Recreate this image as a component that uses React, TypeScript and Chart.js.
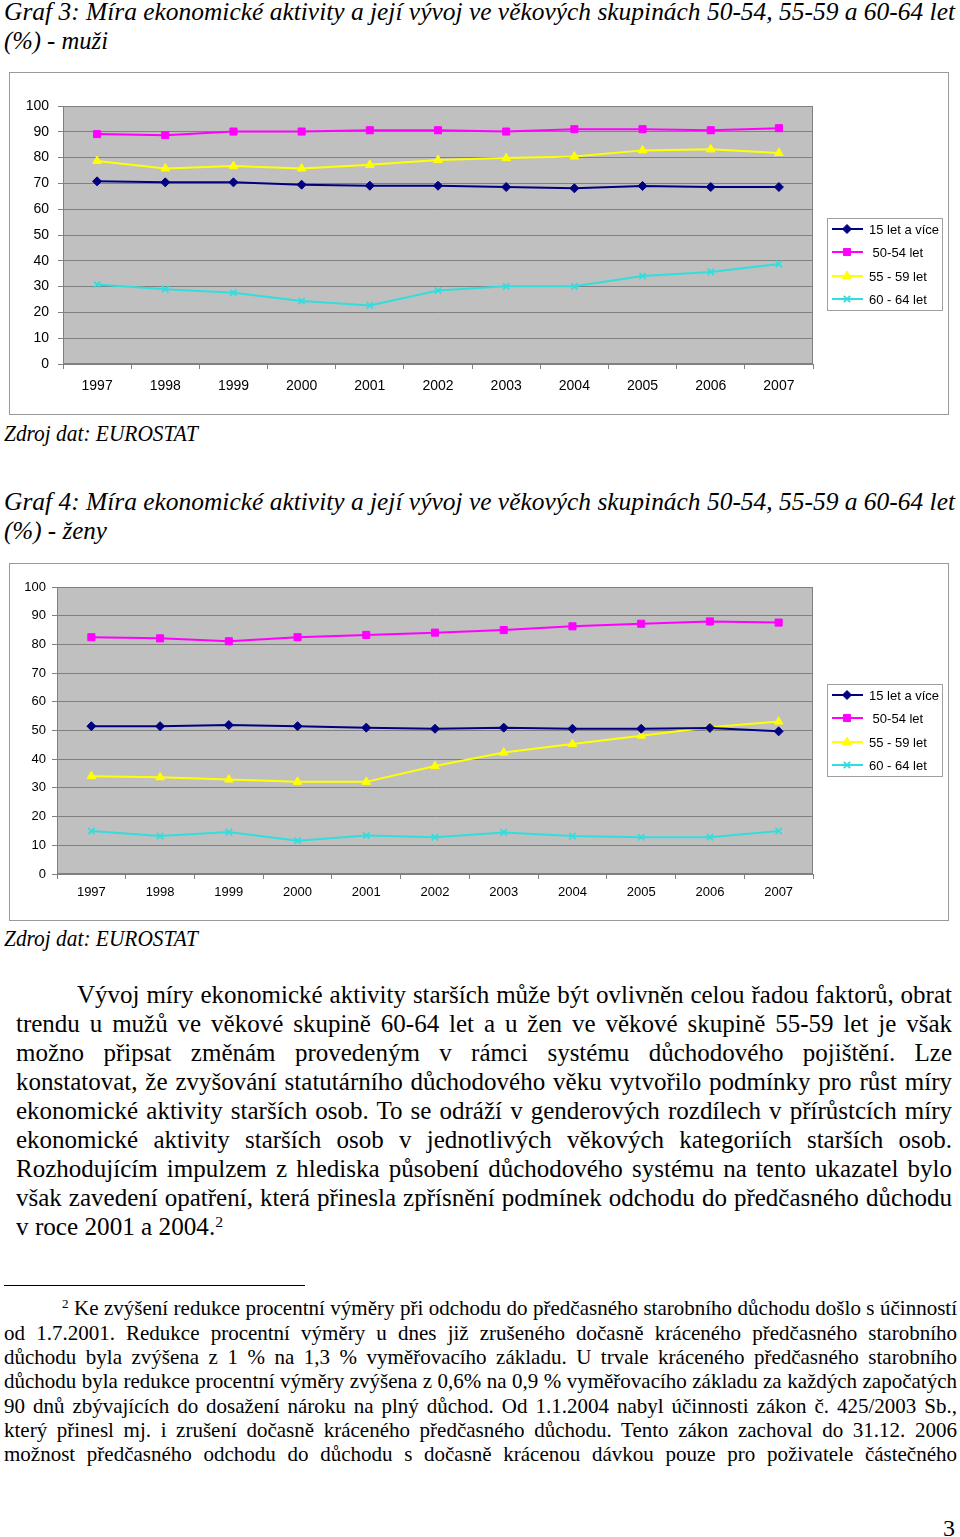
import React, { useEffect, useLayoutEffect, useRef, useState } from 'react';
import { Chart, registerables } from 'chart.js';
import { drawPoint } from 'chart.js/helpers';

Chart.register(...registerables);

const years = ['1997', '1998', '1999', '2000', '2001', '2002', '2003', '2004', '2005', '2006', '2007'];
const seriesLabels = ['15 let a více', ' 50-54 let', '55 - 59 let', '60 - 64 let'];
const seriesColors = ['#000080', '#ff00ff', '#ffff00', '#33dddd'];
const seriesStyles = ['rectRot', 'rect', 'triangle', 'crossRot'];
const seriesRadii = [4.5, 5, 5, 4.5];

const menTotal = [70.8, 70.4, 70.4, 69.5, 69.1, 69.1, 68.6, 68.1, 69.0, 68.6, 68.6];
const men5054 = [89.1, 88.7, 90.1, 90.1, 90.6, 90.6, 90.1, 91.0, 91.0, 90.6, 91.4];
const men5559 = [78.7, 75.8, 76.7, 75.8, 77.2, 79.1, 79.8, 80.4, 82.8, 83.2, 81.8];
const men6064 = [30.8, 29.0, 27.6, 24.4, 22.7, 28.5, 30.1, 30.1, 34.1, 35.7, 38.8];

const womenTotal = [51.5, 51.5, 51.9, 51.5, 51.0, 50.6, 51.0, 50.6, 50.6, 50.9, 49.7];
const women5054 = [82.5, 82.1, 81.1, 82.5, 83.3, 84.1, 85.0, 86.3, 87.2, 88.0, 87.6];
const women5559 = [34.1, 33.7, 32.9, 32.1, 32.1, 37.6, 42.3, 45.3, 48.2, 51.1, 53.1];
const women6064 = [15.0, 13.2, 14.6, 11.6, 13.4, 12.8, 14.5, 13.2, 12.8, 12.8, 15.0];

const yMin = 0;
const yMax = 100;
const yStep = 10;

const title3 = 'Graf 3: Míra ekonomické aktivity a její vývoj ve věkových skupinách 50-54, 55-59 a 60-64 let';
const title3b = '(%) - muži';
const title4 = 'Graf 4: Míra ekonomické aktivity a její vývoj ve věkových skupinách 50-54, 55-59 a 60-64 let';
const title4b = '(%) - ženy';
const sourceText = 'Zdroj dat: EUROSTAT';

const paragraphLines = [
  'Vývoj míry ekonomické aktivity starších může být ovlivněn celou řadou faktorů, obrat',
  'trendu u mužů ve věkové skupině 60-64 let a u žen ve věkové skupině 55-59 let je však',
  'možno připsat změnám provedeným v rámci systému důchodového pojištění. Lze',
  'konstatovat, že zvyšování statutárního důchodového věku vytvořilo podmínky pro růst míry',
  'ekonomické aktivity starších osob. To se odráží v genderových rozdílech v přírůstcích míry',
  'ekonomické aktivity starších osob v jednotlivých věkových kategoriích starších osob.',
  'Rozhodujícím impulzem z hlediska působení důchodového systému na tento ukazatel bylo',
  'však zavedení opatření, která přinesla zpřísnění podmínek odchodu do předčasného důchodu',
];
const paragraphLast = 'v roce 2001 a 2004.';

const footnoteLines = [
  'Ke zvýšení redukce procentní výměry při odchodu do předčasného starobního důchodu došlo s účinností',
  'od 1.7.2001. Redukce procentní výměry u dnes již zrušeného dočasně kráceného předčasného starobního',
  'důchodu byla zvýšena z 1 % na 1,3 % vyměřovacího základu. U trvale kráceného předčasného starobního',
  'důchodu byla redukce procentní výměry zvýšena z 0,6% na 0,9 % vyměřovacího základu za každých započatých',
  '90 dnů zbývajících do dosažení nároku na plný důchod. Od 1.1.2004 nabyl účinnosti zákon č. 425/2003 Sb.,',
  'který přinesl mj. i zrušení dočasně kráceného předčasného důchodu. Tento zákon zachoval do 31.12. 2006',
  'možnost předčasného odchodu do důchodu s dočasně krácenou dávkou pouze pro poživatele částečného',
];

const SERIF = '"Liberation Serif", "Times New Roman", serif';
const SANS = '"Liberation Sans", Arial, sans-serif';

type TLProps = {
  x: number;
  base: number;
  fs: number;
  w?: number;
  italic?: boolean;
  justify?: boolean;
  s0?: number;
  children: React.ReactNode;
};

function TextLine({ x, base, fs, w, italic, justify, s0 = 1, children }: TLProps) {
  const ref = useRef<HTMLSpanElement>(null);
  const [tick, setTick] = useState(0);
  useEffect(() => {
    if ((document as any).fonts && (document as any).fonts.ready) {
      (document as any).fonts.ready.then(() => setTick((t) => t + 1));
    }
  }, []);
  useLayoutEffect(() => {
    const el = ref.current;
    if (!el) return;
    el.style.wordSpacing = '0px';
    el.style.transform = 'none';
    const nat = el.getBoundingClientRect().width;
    if (!w || nat <= 0) {
      if (s0 !== 1) el.style.transform = `scaleX(${s0})`;
      return;
    }
    const spaces = (el.textContent || '').split(' ').length - 1;
    if (justify && spaces > 0) {
      const ws = (w / s0 - nat) / spaces;
      if (ws >= -1) {
        el.style.wordSpacing = `${ws}px`;
        el.style.transform = `scaleX(${s0})`;
        return;
      }
    }
    el.style.transform = `scaleX(${w / nat})`;
  }, [tick, w, s0, justify]);
  return (
    <div
      style={{
        position: 'absolute',
        left: x,
        top: base - 0.8375 * fs,
        whiteSpace: 'nowrap',
        lineHeight: `${fs}px`,
        fontSize: fs,
        fontStyle: italic ? 'italic' : 'normal',
        fontFamily: SERIF,
        color: '#000',
      }}
    >
      <span ref={ref} style={{ display: 'inline-block', transformOrigin: '0 0' }}>
        {children}
      </span>
    </div>
  );
}

function Sup({ children }: { children: React.ReactNode }) {
  return (
    <span style={{ fontSize: '0.62em', position: 'relative', top: '-0.55em', lineHeight: 0 }}>{children}</span>
  );
}

type Area = { left: number; right: number; top: number; bottom: number };

type ChartProps = {
  left: number;
  top: number;
  width: number;
  height: number;
  series: number[][];
  area: Area;
  fontSize: number;
  yPad: number;
  xPad: number;
  legendX: number;
  legendY: number;
};

function ActivityChart({ left, top, width, height, series, area, fontSize, yPad, xPad, legendX, legendY }: ChartProps) {
  const ref = useRef<HTMLCanvasElement>(null);
  const cw = width - 2;
  const ch = height - 2;
  useEffect(() => {
    const canvas = ref.current;
    if (!canvas) return;
    const bgPlugin = {
      id: 'plotBg',
      beforeDraw(chart: any) {
        const { ctx, chartArea } = chart;
        ctx.save();
        ctx.fillStyle = '#c0c0c0';
        ctx.fillRect(chartArea.left, chartArea.top, chartArea.right - chartArea.left, chartArea.bottom - chartArea.top);
        ctx.restore();
      },
      beforeDatasetsDraw(chart: any) {
        const { ctx, chartArea } = chart;
        ctx.save();
        ctx.strokeStyle = '#808080';
        ctx.lineWidth = 1;
        ctx.strokeRect(
          Math.round(chartArea.left) + 0.5,
          Math.round(chartArea.top) + 0.5,
          Math.round(chartArea.right - chartArea.left) - 1,
          Math.round(chartArea.bottom - chartArea.top) - 1
        );
        ctx.restore();
      },
    };
    const legendPlugin = {
      id: 'boxLegend',
      afterDraw(chart: any) {
        const ctx = chart.ctx;
        const bw = 116;
        const bh = 93;
        ctx.save();
        ctx.fillStyle = '#ffffff';
        ctx.fillRect(legendX, legendY, bw, bh);
        ctx.strokeStyle = '#a0a0a0';
        ctx.lineWidth = 1;
        ctx.strokeRect(legendX + 0.5, legendY + 0.5, bw - 1, bh - 1);
        chart.data.datasets.forEach((ds: any, i: number) => {
          const ry = Math.round(legendY + 11 + i * 23.4);
          ctx.strokeStyle = ds.borderColor;
          ctx.lineWidth = 2;
          ctx.beginPath();
          ctx.moveTo(legendX + 5, ry);
          ctx.lineTo(legendX + 36, ry);
          ctx.stroke();
          ctx.fillStyle = ds.pointBackgroundColor;
          ctx.strokeStyle = ds.pointBorderColor;
          ctx.lineWidth = ds.pointBorderWidth;
          drawPoint(ctx, { pointStyle: ds.pointStyle, radius: ds.pointRadius, rotation: 0, borderWidth: ds.pointBorderWidth } as any, legendX + 20, ry);
          ctx.fillStyle = '#000';
          ctx.font = `13px ${SANS}`;
          ctx.textBaseline = 'middle';
          ctx.textAlign = 'left';
          ctx.fillText(ds.label, legendX + 42, ry + 1);
        });
        ctx.restore();
      },
    };
    const chart = new Chart(canvas, {
      type: 'line',
      data: {
        labels: years,
        datasets: series.map((vals, i) => ({
          label: seriesLabels[i],
          data: vals,
          borderColor: seriesColors[i],
          backgroundColor: seriesColors[i],
          pointBackgroundColor: seriesColors[i],
          pointBorderColor: seriesColors[i],
          pointStyle: seriesStyles[i] as any,
          pointRadius: seriesRadii[i],
          pointBorderWidth: i === 3 ? 1.8 : 1,
          borderWidth: 2,
          tension: 0,
          fill: false,
        })),
      },
      options: {
        responsive: false,
        maintainAspectRatio: false,
        animation: false,
        devicePixelRatio: 1,
        events: [],
        layout: { padding: { left: 0, top: area.top, right: cw - area.right, bottom: 0 } },
        plugins: { legend: { display: false }, tooltip: { enabled: false }, title: { display: false } },
        scales: {
          x: {
            type: 'category',
            offset: true,
            grid: { offset: true, drawOnChartArea: false, drawTicks: true, tickLength: 5, color: '#808080' },
            border: { display: true, color: '#808080' },
            ticks: { padding: xPad, color: '#000', maxRotation: 0, autoSkip: false, font: { size: fontSize, family: SANS } },
            afterFit: (s: any) => {
              s.height = ch - area.bottom;
            },
          },
          y: {
            min: yMin,
            max: yMax,
            ticks: { stepSize: yStep, padding: yPad, color: '#000', font: { size: fontSize, family: SANS } },
            grid: { color: '#808080', tickLength: 5, drawTicks: true },
            border: { display: true, color: '#808080' },
            afterFit: (s: any) => {
              s.width = area.left;
            },
          },
        },
      },
      plugins: [bgPlugin, legendPlugin],
    });
    return () => chart.destroy();
  }, []);
  return (
    <div
      style={{
        position: 'absolute',
        left,
        top,
        width: cw,
        height: ch,
        border: '1px solid #9a9a9a',
        background: '#fff',
      }}
    >
      <canvas ref={ref} width={cw} height={ch} style={{ display: 'block', width: cw, height: ch }} />
    </div>
  );
}

export default function App() {
  const tFs = 26;
  const pFs = 25;
  const pS0 = 1.0;
  const fFs = 21;
  return (
    <div
      style={{
        position: 'absolute',
        left: 0,
        top: 0,
        width: 960,
        height: 1537,
        background: '#fff',
        overflow: 'hidden',
        fontFamily: SERIF,
      }}
    >
      <TextLine x={4} base={21} fs={tFs} w={951} italic>{title3}</TextLine>
      <TextLine x={4} base={50} fs={tFs} w={104} italic>{title3b}</TextLine>

      <ActivityChart
        left={9}
        top={72}
        width={940}
        height={343}
        series={[menTotal, men5054, men5559, men6064]}
        area={{ left: 53, right: 803, top: 33, bottom: 291 }}
        fontSize={14}
        yPad={9}
        xPad={9}
        legendX={817}
        legendY={145}
      />

      <TextLine x={4} base={441} fs={24} w={194} italic>{sourceText}</TextLine>

      <TextLine x={4} base={511} fs={tFs} w={951} italic>{title4}</TextLine>
      <TextLine x={4} base={540} fs={tFs} w={103} italic>{title4b}</TextLine>

      <ActivityChart
        left={9}
        top={563}
        width={940}
        height={358}
        series={[womenTotal, women5054, women5559, women6064]}
        area={{ left: 47, right: 803, top: 23, bottom: 310 }}
        fontSize={13}
        yPad={6}
        xPad={6}
        legendX={817}
        legendY={120}
      />

      <TextLine x={4} base={946} fs={24} w={194} italic>{sourceText}</TextLine>

      {paragraphLines.map((t, i) => (
        <TextLine key={i} x={i === 0 ? 77 : 16} base={1003 + i * 29} fs={pFs} w={i === 0 ? 875 : 936} justify s0={pS0}>
          {t}
        </TextLine>
      ))}
      <TextLine x={16} base={1235} fs={pFs} w={207}>
        {paragraphLast}
        <Sup>2</Sup>
      </TextLine>

      <div style={{ position: 'absolute', left: 4, top: 1285, width: 301, height: 1, background: '#000' }} />

      {footnoteLines.map((t, i) => (
        <TextLine key={i} x={i === 0 ? 62 : 4} base={1316 + i * 24.3} fs={fFs} w={i === 0 ? 895 : 953} justify s0={1}>
          {i === 0 ? (
            <>
              <Sup>2</Sup> {t}
            </>
          ) : (
            t
          )}
        </TextLine>
      ))}

      <TextLine x={943} base={1536} fs={24}>3</TextLine>
    </div>
  );
}
